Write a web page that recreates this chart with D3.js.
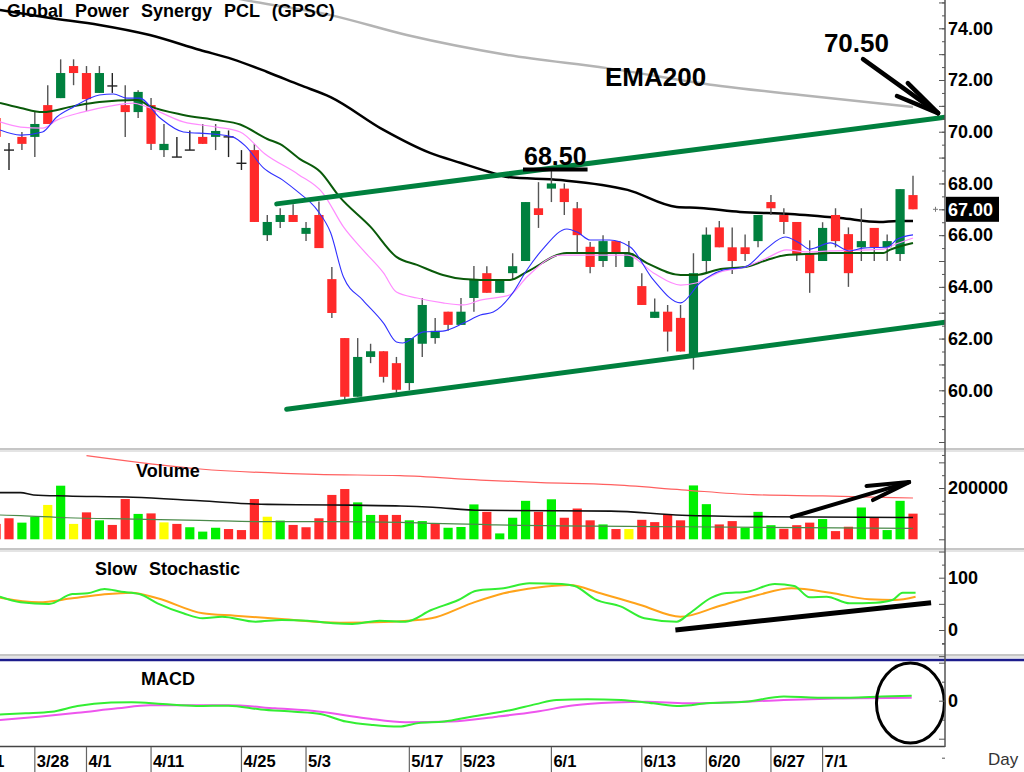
<!DOCTYPE html>
<html><head><meta charset="utf-8">
<script src="https://cdn.jsdelivr.net/npm/d3@7/dist/d3.min.js"></script>
<style>
body{margin:0;background:#fff;}
svg{display:block;font-family:"Liberation Sans",Arial,Helvetica,sans-serif;}
</style>
</head><body>
<svg id="chart" width="1024" height="772"></svg>
<script>
// ---------------- DATA ----------------
const firstIndex = -1; // candle index of first element
const openP  = [70.53,69.29,69.80,69.80,71.03,71.30,72.54,72.27,71.50,71.77, 71.03,70.76,71.03,69.29,69.02,69.29,69.80,69.80,69.80,68.78, 69.29,66.00,66.51,66.78,66.05,66.78,64.30,62.02,59.75,61.29, 61.51,61.05,60.28,61.80,62.02,63.04,62.53,63.57,64.53,63.77, 64.53,65.00,67.04,67.80,67.80,67.04,65.55,65.00,65.77,64.77, 64.03,62.80,63.04,62.80,61.40,65.00,66.30,65.53,65.53,65.77, 67.28,66.78,66.51,65.27,65.00,66.78,66.04,65.53,66.28,65.53, 65.27,67.55];
const highP  = [70.60,69.56,69.99,70.76,71.80,72.80,72.80,72.54,72.54,72.27, 71.80,71.60,71.30,70.30,69.80,70.05,70.30,70.30,70.05,69.29, 69.53,66.78,67.04,67.20,66.51,67.30,64.77,62.02,62.02,61.80, 61.51,61.29,62.02,63.57,62.80,63.04,63.57,64.81,64.80,64.30, 65.30,67.28,68.05,68.50,68.00,67.28,65.74,66.00,65.77,65.77, 64.53,63.55,63.30,63.30,65.30,66.30,66.55,66.30,66.03,66.78, 67.55,67.04,66.51,65.80,66.50,67.04,66.30,67.04,66.28,66.03, 67.78,68.30];
const lowP   = [69.70,68.52,69.29,69.02,70.30,71.30,71.80,70.80,71.50,71.50, 69.80,70.53,69.29,69.02,69.02,69.29,69.53,69.29,69.02,68.52, 66.51,65.77,66.28,66.51,65.77,65.50,62.80,59.63,59.75,61.05, 60.30,59.90,60.00,61.29,61.80,62.30,62.53,63.04,63.77,63.77, 64.30,65.00,66.28,67.28,66.78,65.30,64.53,64.77,64.77,64.77, 63.30,62.80,61.50,61.50,60.80,64.53,65.53,64.50,65.00,65.53, 66.78,66.04,65.00,63.77,65.00,65.53,64.00,65.00,65.00,65.00, 65.00,67.00];
const closeP = [69.80,69.29,69.53,70.30,70.30,72.27,72.27,71.26,72.27,71.77, 70.76,71.54,69.53,69.53,69.02,69.29,69.53,70.03,69.80,68.78, 66.51,66.51,66.78,66.51,66.28,65.50,62.99,59.75,61.29,61.51, 60.52,60.02,62.02,63.30,62.30,62.53,63.04,64.27,63.77,64.30, 64.80,67.28,66.78,68.00,67.28,66.00,64.77,65.77,65.30,65.30, 63.30,63.04,62.27,61.50,64.53,66.02,65.53,65.00,65.27,66.78, 67.04,66.51,65.27,64.53,66.28,65.77,64.53,65.77,65.53,65.77, 67.78,67.00];
const volumeV = [60000,82000,65000,88000,134000,209000,60000,105000,74000,56000, 157000,99000,101000,66000,60000,47000,30000,45000,40000,36000, 157000,88000,73000,56000,47000,82000,173000,196000,144000,95000, 95000,95000,74000,71000,61000,45000,48000,136000,107000,23000, 84000,150000,107000,156000,84000,120000,74000,58000,40000,40000, 76000,67000,97000,74000,210000,137000,58000,71000,45000,107000, 55000,41000,55000,65000,79000,32000,49000,124000,84000,36000, 150000,100000];

// moving averages on price, [candle index, price]
const emaBlue  = [[-0.7,70.07],[0.9,69.87],[2.6,69.99],[3.7,70.57],[5.0,70.96],[7.0,71.42],[8.1,71.46],[9.1,71.30],[10.1,71.30],[11.7,70.53],[13.5,69.99],[15.8,69.91],[17.3,69.80],[18.3,69.45],[19.7,68.60],[21.2,68.13],[22.3,67.70],[23.9,66.95],[24.9,66.10],[25.9,64.38],[27.4,63.49],[29.0,62.60],[30.0,61.87],[30.5,61.83],[32.1,62.26],[33.6,62.29],[35.2,62.60],[36.5,62.91],[37.5,63.03],[39.0,63.76],[40.1,64.65],[41.4,65.50],[43.2,66.24],[44.0,66.12],[45.0,65.81],[46.5,65.81],[48.1,65.54],[49.9,64.27],[52.0,63.38],[53.5,64.15],[55.3,64.65],[57.0,64.77],[58.7,65.50],[60.1,65.93],[61.2,65.70],[62.0,65.46],[63.6,65.70],[65.1,65.39],[66.1,65.50],[68.0,65.54],[68.8,65.85],[70,66.01]];
const emaPink  = [[-0.7,70.38],[0.9,70.18],[2.6,70.14],[3.7,70.45],[5.7,70.76],[7.8,70.99],[9.6,71.11],[10.7,70.96],[13.5,70.38],[16.1,70.18],[17.9,69.99],[19.8,69.15],[22.4,68.35],[24.3,67.63],[25.9,66.32],[27.4,65.43],[29.0,64.54],[30.0,63.80],[31.6,63.57],[33.6,63.38],[35.2,63.30],[36.5,63.49],[38.8,63.69],[40.1,64.38],[42.7,65.23],[47.9,65.23],[49.9,64.54],[52.0,64.07],[53.2,64.15],[55.1,64.58],[57.0,64.77],[58.7,65.12],[60.2,65.43],[61.8,65.35],[63.6,65.39],[67.7,65.46],[68.5,65.62],[70,65.89]];
const emaGreen = [[-0.7,71.11],[0.9,70.92],[2.6,70.76],[5.0,70.99],[7.0,71.15],[9.9,71.23],[10.9,70.99],[13.5,70.65],[16.1,70.45],[17.9,70.28],[20.0,69.72],[21.0,69.52],[22.5,68.95],[24.1,68.45],[25.6,67.48],[28.0,66.32],[30.0,65.16],[31.6,64.85],[33.6,64.46],[35.2,64.30],[36.5,64.27],[38.8,64.27],[40.1,64.58],[43.2,65.31],[47.9,65.31],[49.4,64.92],[52.0,64.46],[53.2,64.46],[55.1,64.69],[57.0,64.77],[58.7,65.04],[60.2,65.23],[61.8,65.27],[63.6,65.31],[67.7,65.31],[68.2,65.43],[70,65.70]];
const emaBlack = [[-0.7,74.71],[3.2,74.40],[7.0,74.13],[10.9,73.74],[14.8,73.16],[17.3,72.81],[20.0,72.31],[22.5,71.81],[24.9,71.34],[29.0,70.07],[32.6,69.18],[35.0,68.79],[37.5,68.40],[38.6,68.25],[42.7,68.13],[47.9,67.75],[51.7,67.09],[53.5,67.05],[56.6,66.90],[60.5,66.82],[64.4,66.66],[67.4,66.51],[68.8,66.55],[70,66.55]];
const ema200   = [[15.0,75.45],[17.9,75.13],[24.9,74.51],[30.8,73.74],[38.6,72.97],[46.3,72.46],[55.1,71.77],[61.3,71.42],[70,70.96]];

// channel lines and annotations
const upperChannel = [[20.73,67.21],[72.48,70.56]];
const lowerChannel = [[21.5,59.27],[72.48,62.63]];
const priceArrow   = [[66.13,72.81],[71.94,70.72]];
const priceArrowBarbs = [[69.6,71.88],[68.76,71.38]];
const peakMark = {from:39.8, to:44.8, price:68.5, label:"68.50"};
const targetLabel = {i:63.1, price:73.08, label:"70.50"};
const emaLabel = {i:46.15, price:71.78, label:"EMA200"};
const lastPrice = 67.00;

// volume averages [index, volume]
const volRed   = [[6.0,326000],[14.8,274000],[23.8,253000],[30.3,248000],[36.5,231000],[41.2,221000],[46.6,213000],[52.1,193000],[57.6,174000],[63.0,169000],[70,161000]];
const volBlack = [[-0.7,182000],[0.9,182000],[1.9,173000],[4.5,169000],[9.6,164000],[14.8,150000],[20.0,136000],[25.1,134000],[30.3,130000],[32.8,125000],[36.5,113000],[46.6,110000],[52.1,94000],[58.9,88000],[70,85000]];
const volGreen = [[-0.7,94700],[0.9,92000],[4.5,84000],[9.6,79000],[14.8,74000],[20.0,68600],[25.1,68600],[30.3,66000],[32.8,62000],[36.5,58000],[37.7,56000],[52.1,49000],[70,42500]];
const volArrow = [[60.6,87000],[69.7,223000]];
const volArrowBarbs = [[66.4,208000],[66.9,153000]];

// slow stochastic [index, value]
const stochK = [[-0.7,63.7],[0.9,53],[3.1,49.7],[4.9,68.8],[6.1,70.2],[7.4,78.4],[8.7,73.2],[10.1,68.8],[11.5,51],[13.5,31.9],[15.0,22.4],[16.5,25.4],[19.1,15.9],[21.1,19.1],[23.1,17.8],[25.1,12.8],[26.6,11.5],[28.7,17.8],[30.7,15.9],[32.7,38.2],[34.8,57.4],[36.2,75.1],[38.3,79.7],[40.3,89.3],[42.8,88],[43.8,84.1],[45.4,58.7],[47.4,44.6],[49.2,22.4],[51.7,15.9],[52.7,31.9],[54.4,61.8],[55.4,70.2],[57.2,73.2],[59.3,88],[60.8,84.1],[62.0,62.5],[63.3,63.7],[65.1,51],[67.1,52.2],[68.4,57.4],[69.2,71.3],[70.2,71.3]];
const stochD = [[-0.7,61.8],[2.3,53],[4.9,60.6],[7.4,68.3],[9.5,71.3],[11.5,60.6],[15.0,31.9],[17.5,27.3],[21.1,21],[25.6,14],[29.7,15.9],[32.7,22.4],[35.8,51],[38.3,70.2],[40.8,80.9],[43.4,86],[45.8,70.2],[48.9,47.8],[52.0,25.4],[55.0,45.9],[58.0,66.9],[60.6,79.7],[63.6,71.3],[66.6,58.7],[68.6,57.4],[70.2,63.7]];
const stochTrend = [[51.6,0],[71.4,52]];

// MACD [index, value]
const macdLine = [[-0.7,-0.36],[1.3,-0.33],[3.3,-0.29],[5.3,-0.14],[7.9,-0.05],[9.5,-0.04],[11.9,-0.09],[14.5,-0.14],[17.0,-0.13],[19.5,-0.23],[22.1,-0.29],[24.1,-0.35],[26.1,-0.55],[28.2,-0.64],[30.2,-0.68],[31.7,-0.59],[33.7,-0.55],[35.8,-0.42],[38.8,-0.25],[40.8,-0.09],[42.4,0.02],[44.8,0.04],[47.4,0.02],[49.9,-0.07],[52.0,-0.14],[54.0,-0.07],[57.0,-0.03],[60.0,0.11],[62.6,0.08],[65.1,0.08],[67.6,0.11],[69.9,0.13]];
const macdSignal = [[-0.7,-0.51],[2.3,-0.42],[5.3,-0.32],[8.4,-0.20],[10.9,-0.12],[14.5,-0.12],[17.0,-0.12],[20.6,-0.20],[24.1,-0.29],[27.6,-0.46],[30.7,-0.57],[34.2,-0.55],[37.8,-0.42],[40.8,-0.29],[43.8,-0.12],[46.8,-0.05],[49.4,-0.03],[52.4,-0.07],[56.0,-0.04],[60.0,0.02],[64.1,0.06],[69.9,0.08]];
const macdCircle = {i:69.8, value:-0.06, ri:2.63, rv:1.05};

// axis labels
const dateIdx    = [-3,2,6,11,18,23,31,35,42,49,54,59,63];
const dateLabels = ["3/21","3/28","4/1","4/11","4/25","5/3","5/17","5/23","6/1","6/13","6/20","6/27","7/1"];
const priceLabels = [60,62,64,66,68,70,72,74];
const volLabels = [200000];
const stochLabels = [0,100];
const macdLabels = [0];

// ---------------- DRAW ----------------
const svg = d3.select("#chart");
const AX = 945;
const P = {main:[0,448], vol:[452,548], sto:[552,655], macd:[661,746]};

const x  = d3.scaleLinear().domain([0,70]).range([9,913]);
const yP = d3.scaleLinear().domain([60,74]).range([390.3,28.3]);
const yV = d3.scaleLinear().domain([0,200000]).range([539.3,488]);
const yS = d3.scaleLinear().domain([0,100]).range([630,577.7]);
const yM = d3.scaleLinear().domain([0,1]).range([700.7,662.7]);

const defs = svg.append("defs");
function clip(id, p){ defs.append("clipPath").attr("id",id).append("rect").attr("x",0).attr("y",p[0]).attr("width",AX).attr("height",p[1]-p[0]); }
clip("cMain",P.main); clip("cVol",P.vol); clip("cSto",P.sto); clip("cMacd",P.macd);

svg.append("rect").attr("width",1024).attr("height",772).attr("fill","#fff");

// separators
function sep(y){
  svg.append("rect").attr("x",0).attr("y",y).attr("width",1024).attr("height",4).attr("fill","#e4e4e4");
  svg.append("line").attr("x1",0).attr("x2",1024).attr("y1",y+1).attr("y2",y+1).attr("stroke","#a8a8a8").attr("stroke-width",1);
}
sep(448); sep(548); sep(654);
svg.append("line").attr("x1",0).attr("x2",1024).attr("y1",660).attr("y2",660).attr("stroke","#1c1c8c").attr("stroke-width",2.5);
svg.append("line").attr("x1",0).attr("x2",AX).attr("y1",746.5).attr("y2",746.5).attr("stroke","#444").attr("stroke-width",1.5);

const candles = openP.map((o,k)=>({i:k+firstIndex,o,h:highP[k],l:lowP[k],c:closeP[k],v:volumeV[k]}));

// ---- main panel
const gM = svg.append("g").attr("clip-path","url(#cMain)");
const lineP = d3.line().x(d=>x(d[0])).y(d=>yP(d[1])).curve(d3.curveMonotoneX);
gM.append("path").attr("d",lineP(ema200)).attr("fill","none").attr("stroke","#b4b4b4").attr("stroke-width",2.5);
gM.append("path").attr("d",lineP(emaBlack)).attr("fill","none").attr("stroke","#000").attr("stroke-width",2.5);

const GREEN="#00803e", RED="#ff2a2a";
const cg = gM.append("g");
candles.forEach(d=>{
  const cx = x(d.i);
  const doji = Math.abs(d.o-d.c)<0.001;
  cg.append("line").attr("x1",cx).attr("x2",cx).attr("y1",yP(d.h)).attr("y2",yP(d.l))
    .attr("stroke",doji?"#222":"#555").attr("stroke-width",1.4);
  if(doji){
    cg.append("line").attr("x1",cx-5).attr("x2",cx+5).attr("y1",yP(d.c)).attr("y2",yP(d.c)).attr("stroke","#222").attr("stroke-width",1.4);
  } else {
    const top = yP(Math.max(d.o,d.c)), bot = yP(Math.min(d.o,d.c));
    cg.append("rect").attr("x",cx-4.6).attr("width",9.2).attr("y",top).attr("height",bot-top)
      .attr("fill",d.c>d.o?GREEN:RED);
  }
});
gM.append("path").attr("d",lineP(emaGreen)).attr("fill","none").attr("stroke","#0a5a0a").attr("stroke-width",2);
gM.append("path").attr("d",lineP(emaPink)).attr("fill","none").attr("stroke","#ff8cff").attr("stroke-width",1.2);
gM.append("path").attr("d",lineP(emaBlue)).attr("fill","none").attr("stroke","#3030ff").attr("stroke-width",1.1);

const straightP = d3.line().x(d=>x(d[0])).y(d=>yP(d[1]));
gM.append("path").attr("d",straightP(upperChannel)).attr("stroke",GREEN).attr("stroke-width",5).attr("stroke-linecap","round").attr("fill","none");
gM.append("path").attr("d",straightP(lowerChannel)).attr("stroke",GREEN).attr("stroke-width",5).attr("stroke-linecap","round").attr("fill","none");

// annotations
gM.append("line").attr("x1",x(peakMark.from)).attr("x2",x(peakMark.to)).attr("y1",yP(peakMark.price)-1).attr("y2",yP(peakMark.price)-1)
  .attr("stroke","#000").attr("stroke-width",4);
svg.append("text").attr("x",(x(peakMark.from)+x(peakMark.to))/2).attr("y",yP(peakMark.price)-6).attr("text-anchor","middle")
  .attr("font-size",25).attr("font-weight","bold").text(peakMark.label);
svg.append("text").attr("x",x(targetLabel.i)).attr("y",yP(targetLabel.price)).attr("font-size",26).attr("font-weight","bold").text(targetLabel.label);
svg.append("text").attr("x",x(emaLabel.i)).attr("y",yP(emaLabel.price)).attr("font-size",26).attr("font-weight","bold").text(emaLabel.label);
svg.append("path").attr("d",straightP(priceArrow)).attr("stroke","#000").attr("stroke-width",4.5).attr("stroke-linecap","round").attr("fill","none");
priceArrowBarbs.forEach(b=>{
  svg.append("path").attr("d",straightP([b,priceArrow[1]])).attr("stroke","#000").attr("stroke-width",4.5).attr("stroke-linecap","round").attr("fill","none");
});

// title
svg.append("text").attr("x",7).attr("y",16.5).attr("font-size",18).attr("font-weight","bold")
  .style("word-spacing","7px").text("Global Power Synergy PCL (GPSC)");

// ---- volume panel
const gV = svg.append("g").attr("clip-path","url(#cVol)");
const VG="#00f000", VR="#ff2a2a", VY="#ffff00";
candles.forEach((d,k)=>{
  let col = VR;
  if(k>0){ const pc = candles[k-1].c; col = Math.abs(d.c-pc)<0.001 ? VY : (d.c>pc ? VG : VR); }
  gV.append("rect").attr("x",x(d.i)-4.6).attr("width",9.2).attr("y",yV(d.v)).attr("height",yV(0)-yV(d.v)).attr("fill",col);
});
const lineV = d3.line().x(d=>x(d[0])).y(d=>yV(d[1])).curve(d3.curveMonotoneX);
gV.append("path").attr("d",lineV(volRed)).attr("fill","none").attr("stroke","#ff6060").attr("stroke-width",1.2);
gV.append("path").attr("d",lineV(volBlack)).attr("fill","none").attr("stroke","#111").attr("stroke-width",1.6);
gV.append("path").attr("d",lineV(volGreen)).attr("fill","none").attr("stroke","#4a8a4a").attr("stroke-width",1.2);
const straightV = d3.line().x(d=>x(d[0])).y(d=>yV(d[1]));
gV.append("path").attr("d",straightV(volArrow)).attr("stroke","#000").attr("stroke-width",4).attr("stroke-linecap","round").attr("fill","none");
volArrowBarbs.forEach(b=>{
  gV.append("path").attr("d",straightV([b,volArrow[1]])).attr("stroke","#000").attr("stroke-width",4).attr("stroke-linecap","round").attr("fill","none");
});
svg.append("text").attr("x",136).attr("y",477).attr("font-size",18).attr("font-weight","bold").text("Volume");

// ---- stochastic panel
const gS = svg.append("g").attr("clip-path","url(#cSto)");
const lineS = d3.line().x(d=>x(d[0])).y(d=>yS(d[1])).curve(d3.curveMonotoneX);
gS.append("path").attr("d",lineS(stochD)).attr("fill","none").attr("stroke","#ffa31a").attr("stroke-width",2);
gS.append("path").attr("d",lineS(stochK)).attr("fill","none").attr("stroke","#33ee33").attr("stroke-width",2);
gS.append("path").attr("d",d3.line().x(d=>x(d[0])).y(d=>yS(d[1]))(stochTrend)).attr("stroke","#000").attr("stroke-width",5).attr("fill","none");
svg.append("text").attr("x",95).attr("y",575).attr("font-size",18).attr("font-weight","bold").style("word-spacing","7px").text("Slow Stochastic");

// ---- MACD panel
const gD = svg.append("g").attr("clip-path","url(#cMacd)");
const lineD = d3.line().x(d=>x(d[0])).y(d=>yM(d[1])).curve(d3.curveMonotoneX);
gD.append("path").attr("d",lineD(macdSignal)).attr("fill","none").attr("stroke","#ee55ee").attr("stroke-width",2);
gD.append("path").attr("d",lineD(macdLine)).attr("fill","none").attr("stroke","#33ee33").attr("stroke-width",2);
svg.append("ellipse").attr("cx",x(macdCircle.i)).attr("cy",yM(macdCircle.value))
  .attr("rx",x(macdCircle.i+macdCircle.ri)-x(macdCircle.i)).attr("ry",yM(0)-yM(macdCircle.rv))
  .attr("fill","none").attr("stroke","#000").attr("stroke-width",3);
svg.append("text").attr("x",141).attr("y",685).attr("font-size",18).attr("font-weight","bold").text("MACD");

// ---- right axes
svg.append("line").attr("x1",AX).attr("x2",AX).attr("y1",0).attr("y2",747).attr("stroke","#555").attr("stroke-width",1.5);
function rAxis(scale, minor, major, labels, fmt){
  const g = svg.append("g").attr("transform",`translate(${AX},0)`);
  g.append("g").call(d3.axisRight(scale).tickValues(minor).tickSize(-3).tickFormat(""));
  g.append("g").call(d3.axisRight(scale).tickValues(major).tickSize(-6).tickFormat(""));
  g.append("g").call(d3.axisRight(scale).tickValues(labels).tickSize(0).tickPadding(3).tickFormat(fmt));
  g.selectAll(".domain").remove();
  g.selectAll("line").attr("stroke","#555");
  g.selectAll("text").attr("font-size",18).attr("font-weight","bold").attr("fill","#000")
    .attr("font-family","'Liberation Sans',Arial,sans-serif");
  return g;
}
rAxis(yP, d3.range(57.5,75.1,0.5), d3.range(58,75.1,1), priceLabels, d3.format(".2f"));
rAxis(yV, [50000,150000,250000], [0,100000,200000,300000], volLabels, d3.format("d"));
rAxis(yS, [-25,25,75,125], [-50,0,50,100,150], stochLabels, d3.format("d"));
rAxis(yM, [-0.5,0.5,1.5,-1.5], [-1,0,1], macdLabels, d3.format("d"));

// last price box
svg.append("rect").attr("x",946).attr("y",yP(lastPrice)-12.5).attr("width",53).attr("height",25).attr("fill","#000");
svg.append("text").attr("x",948).attr("y",yP(lastPrice)+6.5).attr("font-size",18).attr("font-weight","bold").attr("fill","#fff").text(d3.format(".2f")(lastPrice));
svg.append("path").attr("d",`M${AX-12},${yP(lastPrice)}h5M${AX-9.5},${yP(lastPrice)-2.5}v5`).attr("stroke","#777").attr("stroke-width",1);

// ---- date axis
const gX = svg.append("g");
dateIdx.forEach((di,k)=>{
  const px = x(di);
  gX.append("line").attr("x1",px).attr("x2",px).attr("y1",747).attr("y2",772).attr("stroke","#666").attr("stroke-width",1.2);
  gX.append("text").attr("x",px+2).attr("y",767).attr("font-size",16.5).attr("font-weight","bold").text(dateLabels[k]);
});
svg.append("text").attr("x",988).attr("y",765).attr("font-size",17).attr("fill","#333").text("Day");
</script>
</body></html>
